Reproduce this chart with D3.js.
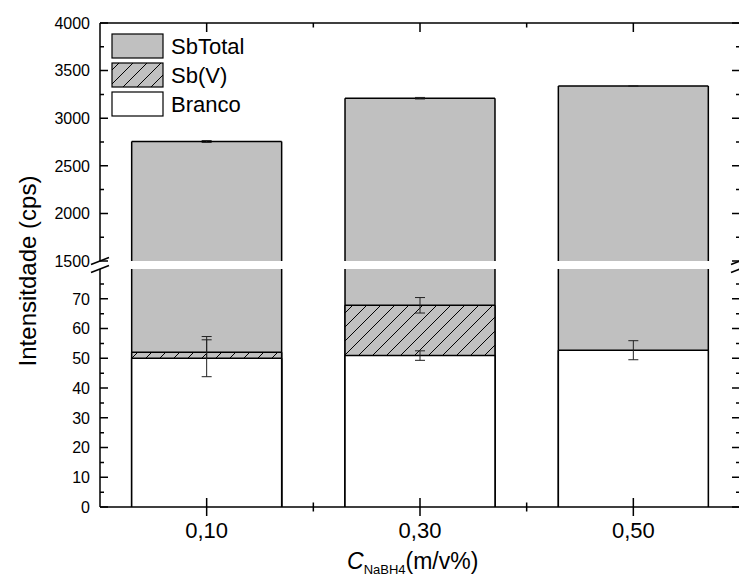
<!DOCTYPE html>
<html><head><meta charset="utf-8">
<script src="https://cdn.jsdelivr.net/npm/d3@7/dist/d3.min.js"></script>
<style>body{margin:0;background:#fff}svg{display:block;font-family:"Liberation Sans",Arial,sans-serif}</style>
</head><body>
<svg id="chart" width="739" height="580"></svg>
<script>
// ---- data ----
const categories = ["0,10", "0,30", "0,50"];
const xValues = [0.10, 0.30, 0.50];
const sbTotal = [2755, 3210, 3337];
const sbTotalErr = [10, 8, 4];
const sbV = [52, 67.8, 0];
const sbVErr = [5.3, 2.6, 0];
const branco = [50, 50.9, 52.7];
const brancoErr = [6.2, 1.6, 3.2];
const yTicksLow = [0, 10, 20, 30, 40, 50, 60, 70];
const yTicksHigh = [1500, 2000, 2500, 3000, 3500, 4000];
const seriesNames = ["SbTotal", "Sb(V)", "Branco"];

const svg = d3.select("#chart");
const defs = svg.append("defs");
const pat = defs.append("pattern").attr("id","hatch").attr("patternUnits","userSpaceOnUse")
  .attr("width",14).attr("height",14);
pat.append("rect").attr("width",14).attr("height",14).attr("fill","#c0c0c0");
pat.append("path").attr("d","M-3.5,3.5L3.5,-3.5M0,14L14,0M10.5,17.5L17.5,10.5")
  .attr("stroke","#000").attr("stroke-width",1);

const x = d3.scaleLinear().domain([0, 0.6]).range([100, 740]);
const yLow = d3.scaleLinear().domain([0, 80]).range([507, 269]);
const yHigh = d3.scaleLinear().domain([1500, 4000]).range([261, 23]);
const segments = [{s: yLow, lo: 0, hi: 80}, {s: yHigh, lo: 1500, hi: 4000}];
const Y = v => v <= 80 ? yLow(v) : yHigh(v);
const halfW = 0.0703;

const gBars = svg.append("g");
function drawBar(xv, v, fill) {
  const x0 = x(xv - halfW), x1 = x(xv + halfW);
  segments.forEach(seg => {
    const lo = Math.max(0, seg.lo), hi = Math.min(v, seg.hi);
    if (hi <= lo) return;
    const y0 = seg.s(lo), y1 = seg.s(hi);
    gBars.append("rect").attr("x", x0).attr("y", y1).attr("width", x1 - x0).attr("height", y0 - y1)
      .attr("fill", fill);
    let d = `M${x0},${y0}V${y1}M${x1},${y0}V${y1}`;
    if (v <= seg.hi) d += `M${x0},${y1}H${x1}`;
    gBars.append("path").attr("d", d).attr("stroke", "#000").attr("stroke-width", 1.5).attr("fill", "none");
  });
}
function drawErr(xv, v, e) {
  if (!e) return;
  const cx = x(xv), ya = Y(v - e), yb = Y(v + e);
  gBars.append("path").attr("d", `M${cx},${ya}V${yb}M${cx-5},${ya}H${cx+5}M${cx-5},${yb}H${cx+5}`)
    .attr("stroke", "#222").attr("stroke-width", 1).attr("fill", "none");
}
const series = [
  {vals: sbTotal, errs: sbTotalErr, fill: "#c0c0c0"},
  {vals: sbV, errs: sbVErr, fill: "url(#hatch)"},
  {vals: branco, errs: brancoErr, fill: "#ffffff"}
];
series.forEach(sr => {
  xValues.forEach((xv, i) => drawBar(xv, sr.vals[i], sr.fill));
  xValues.forEach((xv, i) => drawErr(xv, sr.vals[i], sr.errs[i]));
});

// ---- axes ----
const gAx = svg.append("g").attr("stroke", "#000").attr("stroke-width", 1.5).attr("fill", "none");
const L = 100, R = 740, B = 507, T = 23;
gAx.append("path").attr("d", `M${L},${B}H${R}M${L},${T}H${R}`);
gAx.append("path").attr("d", `M${L},${B}V${yLow(80)}M${L},${yHigh(1500)}V${T}M${R},${B}V${yLow(80)}M${R},${yHigh(1500)}V${T}`);
// break marks
[L, R].forEach(ax => {
  [yHigh(1500), yLow(80)].forEach(yy => {
    gAx.append("path").attr("d", `M${ax-9},${yy+3.5}L${ax+9},${yy-3.5}`).attr("stroke-width", 1.5);
  });
});
// y ticks
function yt(scale, majors, minors) {
  majors.forEach(v => {
    gAx.append("path").attr("d", `M${L},${scale(v)}h8M${R},${scale(v)}h-8`);
  });
  minors.forEach(v => {
    gAx.append("path").attr("d", `M${L},${scale(v)}h4M${R},${scale(v)}h-4`);
  });
}
yt(yLow, yTicksLow, yTicksLow.map(v => v + 5));
yt(yHigh, yTicksHigh, yTicksHigh.slice(0, -1).map(v => v + 250));
// x ticks
const xMinor = [0.2, 0.4];
xValues.forEach(v => gAx.append("path").attr("d", `M${x(v)},${B-9}V${B+9}M${x(v)},${T}v9`));
xMinor.forEach(v => gAx.append("path").attr("d", `M${x(v)},${B-4.5}V${B+4.5}M${x(v)},${T}v4.5`));

// labels
const gT = svg.append("g").attr("fill", "#000");
yTicksLow.forEach(v => gT.append("text").attr("x", 90).attr("y", yLow(v)).attr("dy", "0.36em")
  .attr("text-anchor", "end").attr("font-size", 16).text(v));
yTicksHigh.forEach(v => gT.append("text").attr("x", 90).attr("y", yHigh(v)).attr("dy", "0.36em")
  .attr("text-anchor", "end").attr("font-size", 16).text(v));
categories.forEach((c, i) => gT.append("text").attr("x", x(xValues[i])).attr("y", 538)
  .attr("text-anchor", "middle").attr("font-size", 22).text(c));

const xt = gT.append("text").attr("x", 347).attr("y", 569).attr("font-size", 23);
xt.append("tspan").attr("font-style", "italic").text("C");
xt.append("tspan").attr("font-size", 13).attr("dy", 5).text("NaBH4");
xt.append("tspan").attr("dy", -5).text("(m/v%)");

gT.append("text").attr("transform", `translate(36,${(yLow(0)+yHigh(4000))/2 + 6}) rotate(-90)`)
  .attr("text-anchor", "middle").attr("font-size", 24).text("Intensitdade (cps)");

// legend
const legFills = ["#c0c0c0", "url(#hatch)", "#ffffff"];
seriesNames.forEach((n, i) => {
  const yy = 34 + i * 29;
  svg.append("rect").attr("x", 112).attr("y", yy).attr("width", 51).attr("height", 24)
    .attr("fill", legFills[i]).attr("stroke", "#000").attr("stroke-width", 1.2);
  gT.append("text").attr("x", 171).attr("y", yy + 20).attr("font-size", 22).text(n);
});
</script>
</body></html>
